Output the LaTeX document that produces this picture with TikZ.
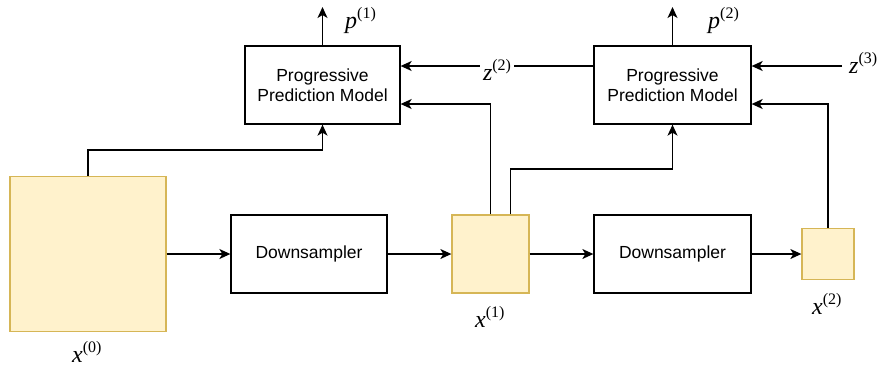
\documentclass[tikz,border=0pt]{standalone}
\usepackage{fontspec}
\setmainfont{Liberation Serif}
\newfontfamily\boxfont{Liberation Sans}
\usetikzlibrary{arrows.meta}
\definecolor{sqfill}{HTML}{FFF2CC}
\definecolor{sqdraw}{HTML}{D6B656}
% italic symbol with a raised upright index in parentheses
\newcommand{\idxlabel}[2]{\fontsize{24}{24}\selectfont\textit{#1}\raisebox{10pt}{\fontsize{16}{16}\selectfont(#2)}}
\tikzset{
  wire/.style={line width=1.3pt, black},
  arr/.style={wire, -{Stealth[length=11pt,width=10pt,inset=3pt]}},
  block/.style={draw, line width=1.3pt, fill=white, inner sep=0pt,
    font=\boxfont\fontsize{17.5}{20}\selectfont, align=center},
  tensor/.style={draw=sqdraw, fill=sqfill, line width=1.3pt, inner sep=0pt},
  lbl/.style={inner sep=0pt, anchor=base west},
}
\begin{document}
\begin{tikzpicture}[x=1pt,y=-1pt]
\useasboundingbox (0,0) rectangle (883,368);

% feature maps
\node[tensor, minimum width=156pt, minimum height=155pt] (x0) at (88,254) {};
\node[tensor, minimum width=77pt, minimum height=78pt] (x1) at (490.5,254) {};
\node[tensor, minimum width=52pt, minimum height=51pt] (x2) at (828,254) {};

% processing blocks
\node[block, minimum width=156pt, minimum height=78pt] (ds1) at (309,254) {Downsampler};
\node[block, minimum width=157pt, minimum height=78pt] (ds2) at (672.5,254) {Downsampler};
\node[block, minimum width=155pt, minimum height=78pt] (ppm1) at (322.5,85) {Progressive\\Prediction Model};
\node[block, minimum width=157pt, minimum height=78pt] (ppm2) at (672.5,85) {Progressive\\Prediction Model};

% labels
\node[lbl] (lx0) at (72,362) {\idxlabel{x}{0}};
\node[lbl] (lx1) at (475,327) {\idxlabel{x}{1}};
\node[lbl] (lx2) at (812,314) {\idxlabel{x}{2}};
\node[lbl] (lp1) at (345,28) {\idxlabel{p}{1}};
\node[lbl] (lp2) at (708,28) {\idxlabel{p}{2}};
\node[lbl] (lz3) at (849,73) {\idxlabel{z}{3}};

\coordinate (p1tip) at (322.5,7);
\coordinate (p2tip) at (672.5,7);
\coordinate (z3tail) at (842,66);

% main downsampling chain
\draw[arr] (x0.east) -- (ds1.west);
\draw[arr] (ds1.east) -- (x1.west);
\draw[arr] (x1.east) -- (ds2.west);
\draw[arr] (ds2.east) -- (x2.west);

% outputs
\draw[arr] (ppm1.north) -- (p1tip);
\draw[arr] (ppm2.north) -- (p2tip);

% latent passed between prediction models
\draw[arr] (z3tail) -- ([yshift=19pt]ppm2.east);
\draw[arr] ([yshift=19pt]ppm2.west) -- node[fill=white, inner sep=3pt, yshift=-4pt] (lz2) {\idxlabel{z}{2}} ([yshift=19pt]ppm1.east);

% feature inputs to the prediction models
\draw[arr] (x0.north) |- (322.5,150) -- (ppm1.south);
\draw[arr] (x1.north) |- ([yshift=-19pt]ppm1.east);
\draw[arr] ([xshift=20pt]x1.north) |- (672.5,169) -- (ppm2.south);
\draw[arr] (x2.north) |- ([yshift=-19pt]ppm2.east);
\end{tikzpicture}
\end{document}
